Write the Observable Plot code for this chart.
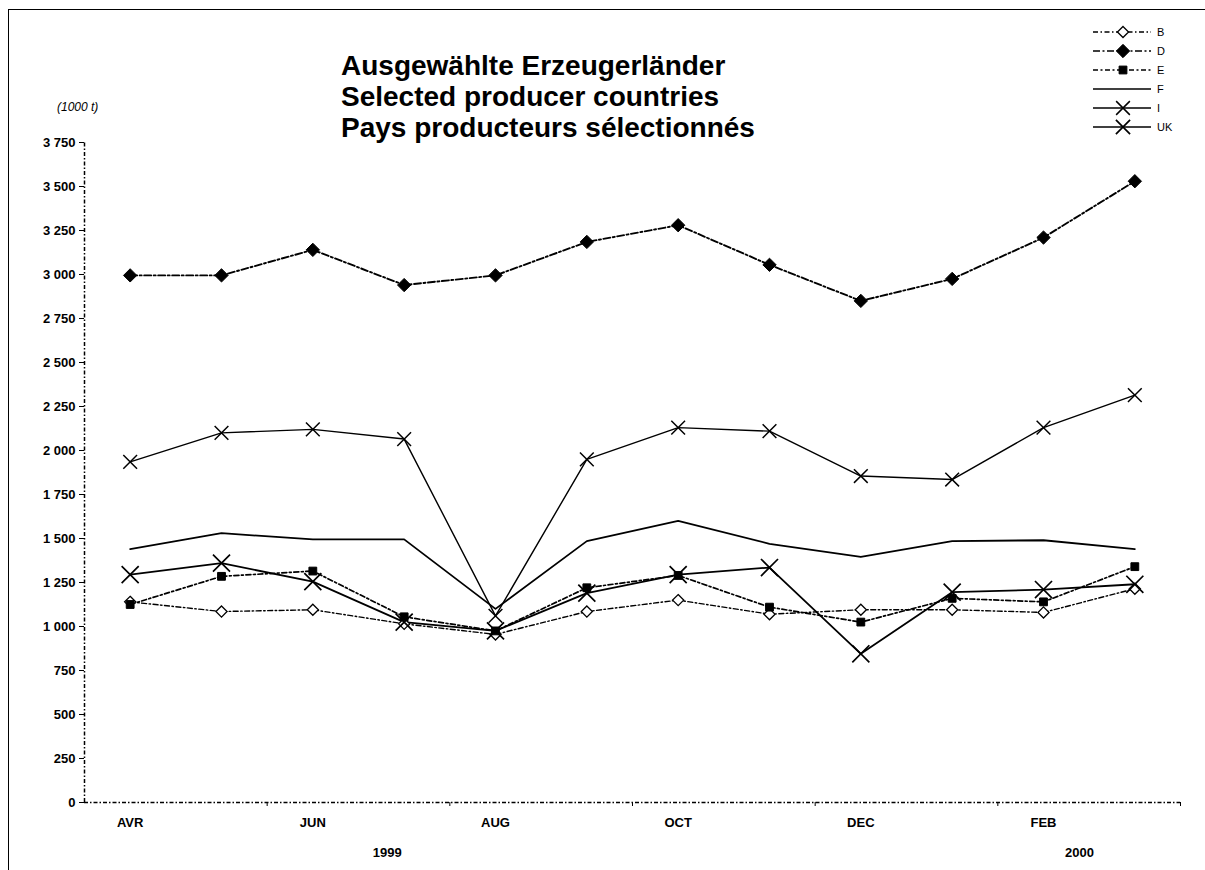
<!DOCTYPE html>
<html>
<head>
<meta charset="utf-8">
<script src="https://cdn.jsdelivr.net/npm/d3@7"></script>
<script src="https://cdn.jsdelivr.net/npm/@observablehq/plot@0.6"></script>
<style>
  body { margin: 0; background: #fff; }
  #wrap { position: relative; width: 1205px; height: 870px; overflow: hidden; background: #fff;
          font-family: "Liberation Sans", Arial, sans-serif; color: #000; }
  #wrap > svg.plot { position: absolute; left: 0; top: 0; }
  .title { position: absolute; left: 341px; top: 50px; font-size: 28px; font-weight: bold; line-height: 31px; white-space: nowrap; }
  .unit { position: absolute; left: 57px; top: 100px; font-size: 12px; font-style: italic; white-space: nowrap; }
  .year { position: absolute; top: 845px; font-size: 13px; font-weight: bold; transform: translateX(-50%); }
  .border-left { position: absolute; left: 8px; top: 9px; width: 0; height: 861px; border-left: 1.5px solid #000; }
  .border-top { position: absolute; left: 8px; top: 9px; width: 1197px; height: 0; border-top: 1.5px solid #000; }
  #legend { position: absolute; left: 1085px; top: 20px; }
</style>
</head>
<body>
<div id="wrap">
  <div class="border-left"></div>
  <div class="border-top"></div>
  <div class="title">Ausgewählte Erzeugerländer<br>Selected producer countries<br>Pays producteurs sélectionnés</div>
  <div class="unit">(1000 t)</div>
</div>
<script>
// ---- data ----
const months = ["AVR","MAY","JUN","JUL","AUG","SEP","OCT","NOV","DEC","JAN","FEB","MAR"];
const labelledMonthIdx = [0, 2, 4, 6, 8, 10];
const boundaryTicks = [1.5, 3.5, 5.5, 7.5, 9.5, 11.5];
const yTicks = [0, 250, 500, 750, 1000, 1250, 1500, 1750, 2000, 2250, 2500, 2750, 3000, 3250, 3500, 3750];
const years = ["1999", "2000"];
const yearPos = [2.82, 10.4];   // position along the month axis (index units)

const countries = ["B", "D", "E", "F", "I", "UK"];
const B  = [1140, 1085, 1095, 1015,  955, 1085, 1150, 1070, 1095, 1095, 1080, 1215];
const D  = [2995, 2995, 3140, 2940, 2995, 3185, 3280, 3055, 2850, 2975, 3210, 3530];
const E  = [1125, 1285, 1315, 1055,  975, 1220, 1290, 1110, 1025, 1160, 1140, 1340];
const F  = [1440, 1530, 1495, 1495, 1100, 1485, 1600, 1470, 1395, 1485, 1490, 1440];
const I  = [1935, 2100, 2120, 2065, 1060, 1950, 2130, 2110, 1855, 1835, 2130, 2315];
const UK = [1295, 1360, 1255, 1025,  975, 1190, 1295, 1335,  845, 1195, 1210, 1240];
const seriesValues = [B, D, E, F, I, UK];

// ---- styles ----
const styles = {
  B:  {dash: "5,2.5,1.5,2.5", sw: 1.4, symbol: "diamond2", fill: "white", r: 5.0, msw: 1.3},
  D:  {dash: "7,2.5,2,2.5",   sw: 1.9, symbol: "diamond2", fill: "black", r: 6.0, msw: 1},
  E:  {dash: "5,2.5,2,2.5",   sw: 1.7, symbol: "square",   fill: "black", r: 4.4, msw: 1},
  F:  {dash: null,            sw: 1.8, symbol: null},
  I:  {dash: null,            sw: 1.4, symbol: "times",    fill: "none",  r: 6.3, msw: 1.5},
  UK: {dash: null,            sw: 1.8, symbol: "times",    fill: "none",  r: 7.8, msw: 1.7}
};

const rows = [];
countries.forEach((c, k) => seriesValues[k].forEach((v, i) => rows.push({country: c, i, month: months[i], value: v})));

const fmt = d3.formatLocale({decimal: ",", thousands: " ", grouping: [3], currency: ["", ""]}).format(",");
const axisDash = "4,2,1.5,2";

const marks = [
  Plot.ruleX([-0.5], {y1: 0, y2: 3750, stroke: "black", strokeWidth: 1.5, strokeDasharray: axisDash}),
  Plot.ruleY([0], {x1: -0.5, x2: 11.5, stroke: "black", strokeWidth: 1.5, strokeDasharray: axisDash}),
  Plot.axisY({ticks: yTicks, tickSize: 5, tickPadding: 4, tickFormat: fmt, fontWeight: "bold", fontSize: 13, label: null}),
  Plot.axisX({ticks: boundaryTicks, tickSize: 4, tickFormat: () => "", label: null}),
  Plot.axisX({ticks: labelledMonthIdx, tickSize: 0, tickPadding: 15, tickFormat: i => months[i], fontWeight: "bold", fontSize: 13, label: null})
];

countries.forEach(c => {
  const st = styles[c];
  marks.push(Plot.line(rows, {filter: d => d.country === c, x: "i", y: "value", stroke: "black",
    strokeWidth: st.sw, strokeDasharray: st.dash || undefined}));
});
countries.forEach(c => {
  const st = styles[c];
  if (!st.symbol) return;
  marks.push(Plot.dot(rows, {filter: d => d.country === c, x: "i", y: "value", symbol: st.symbol, r: st.r,
    fill: st.fill, stroke: "black", strokeWidth: st.msw}));
});

const chart = Plot.plot({
  width: 1205,
  height: 870,
  marginLeft: 84,
  marginRight: 25,
  marginTop: 142,
  marginBottom: 68,
  x: {type: "linear", domain: [-0.5, 11.5]},
  y: {type: "linear", domain: [0, 3750]},
  style: {fontFamily: "'Liberation Sans', Arial, sans-serif", background: "transparent", color: "black"},
  marks
});
chart.classList.add("plot");
const wrap = document.getElementById("wrap");
wrap.insertBefore(chart, wrap.firstChild);

// year labels positioned through the chart's x scale
const xs = chart.scale("x");
years.forEach((y, k) => {
  const d = document.createElement("div");
  d.className = "year";
  d.style.left = xs.apply(yearPos[k]) + "px";
  d.textContent = y;
  wrap.appendChild(d);
});

// legend
const lg = d3.select(wrap).append("svg").attr("id", "legend").attr("width", 118).attr("height", 120);
const symMap = {diamond2: d3.symbolDiamond2, square: d3.symbolSquare, times: d3.symbolTimes};
countries.forEach((c, k) => {
  const st = styles[c];
  const y = 12 + k * 19;
  lg.append("line").attr("x1", 8).attr("x2", 66).attr("y1", y).attr("y2", y)
    .attr("stroke", "black").attr("stroke-width", Math.min(st.sw, 1.5))
    .attr("stroke-dasharray", st.dash || null);
  if (st.symbol) {
    const rr = Math.min(st.r, 6.5);
    lg.append("path").attr("transform", `translate(38,${y})`)
      .attr("d", d3.symbol(symMap[st.symbol], Math.PI * rr * rr)())
      .attr("fill", st.fill).attr("stroke", "black").attr("stroke-width", st.msw);
  }
  lg.append("text").attr("x", 72).attr("y", y).attr("dy", "0.35em")
    .attr("font-size", 11).attr("font-family", "'Liberation Sans', Arial, sans-serif").text(c);
});
</script>
</body>
</html>
